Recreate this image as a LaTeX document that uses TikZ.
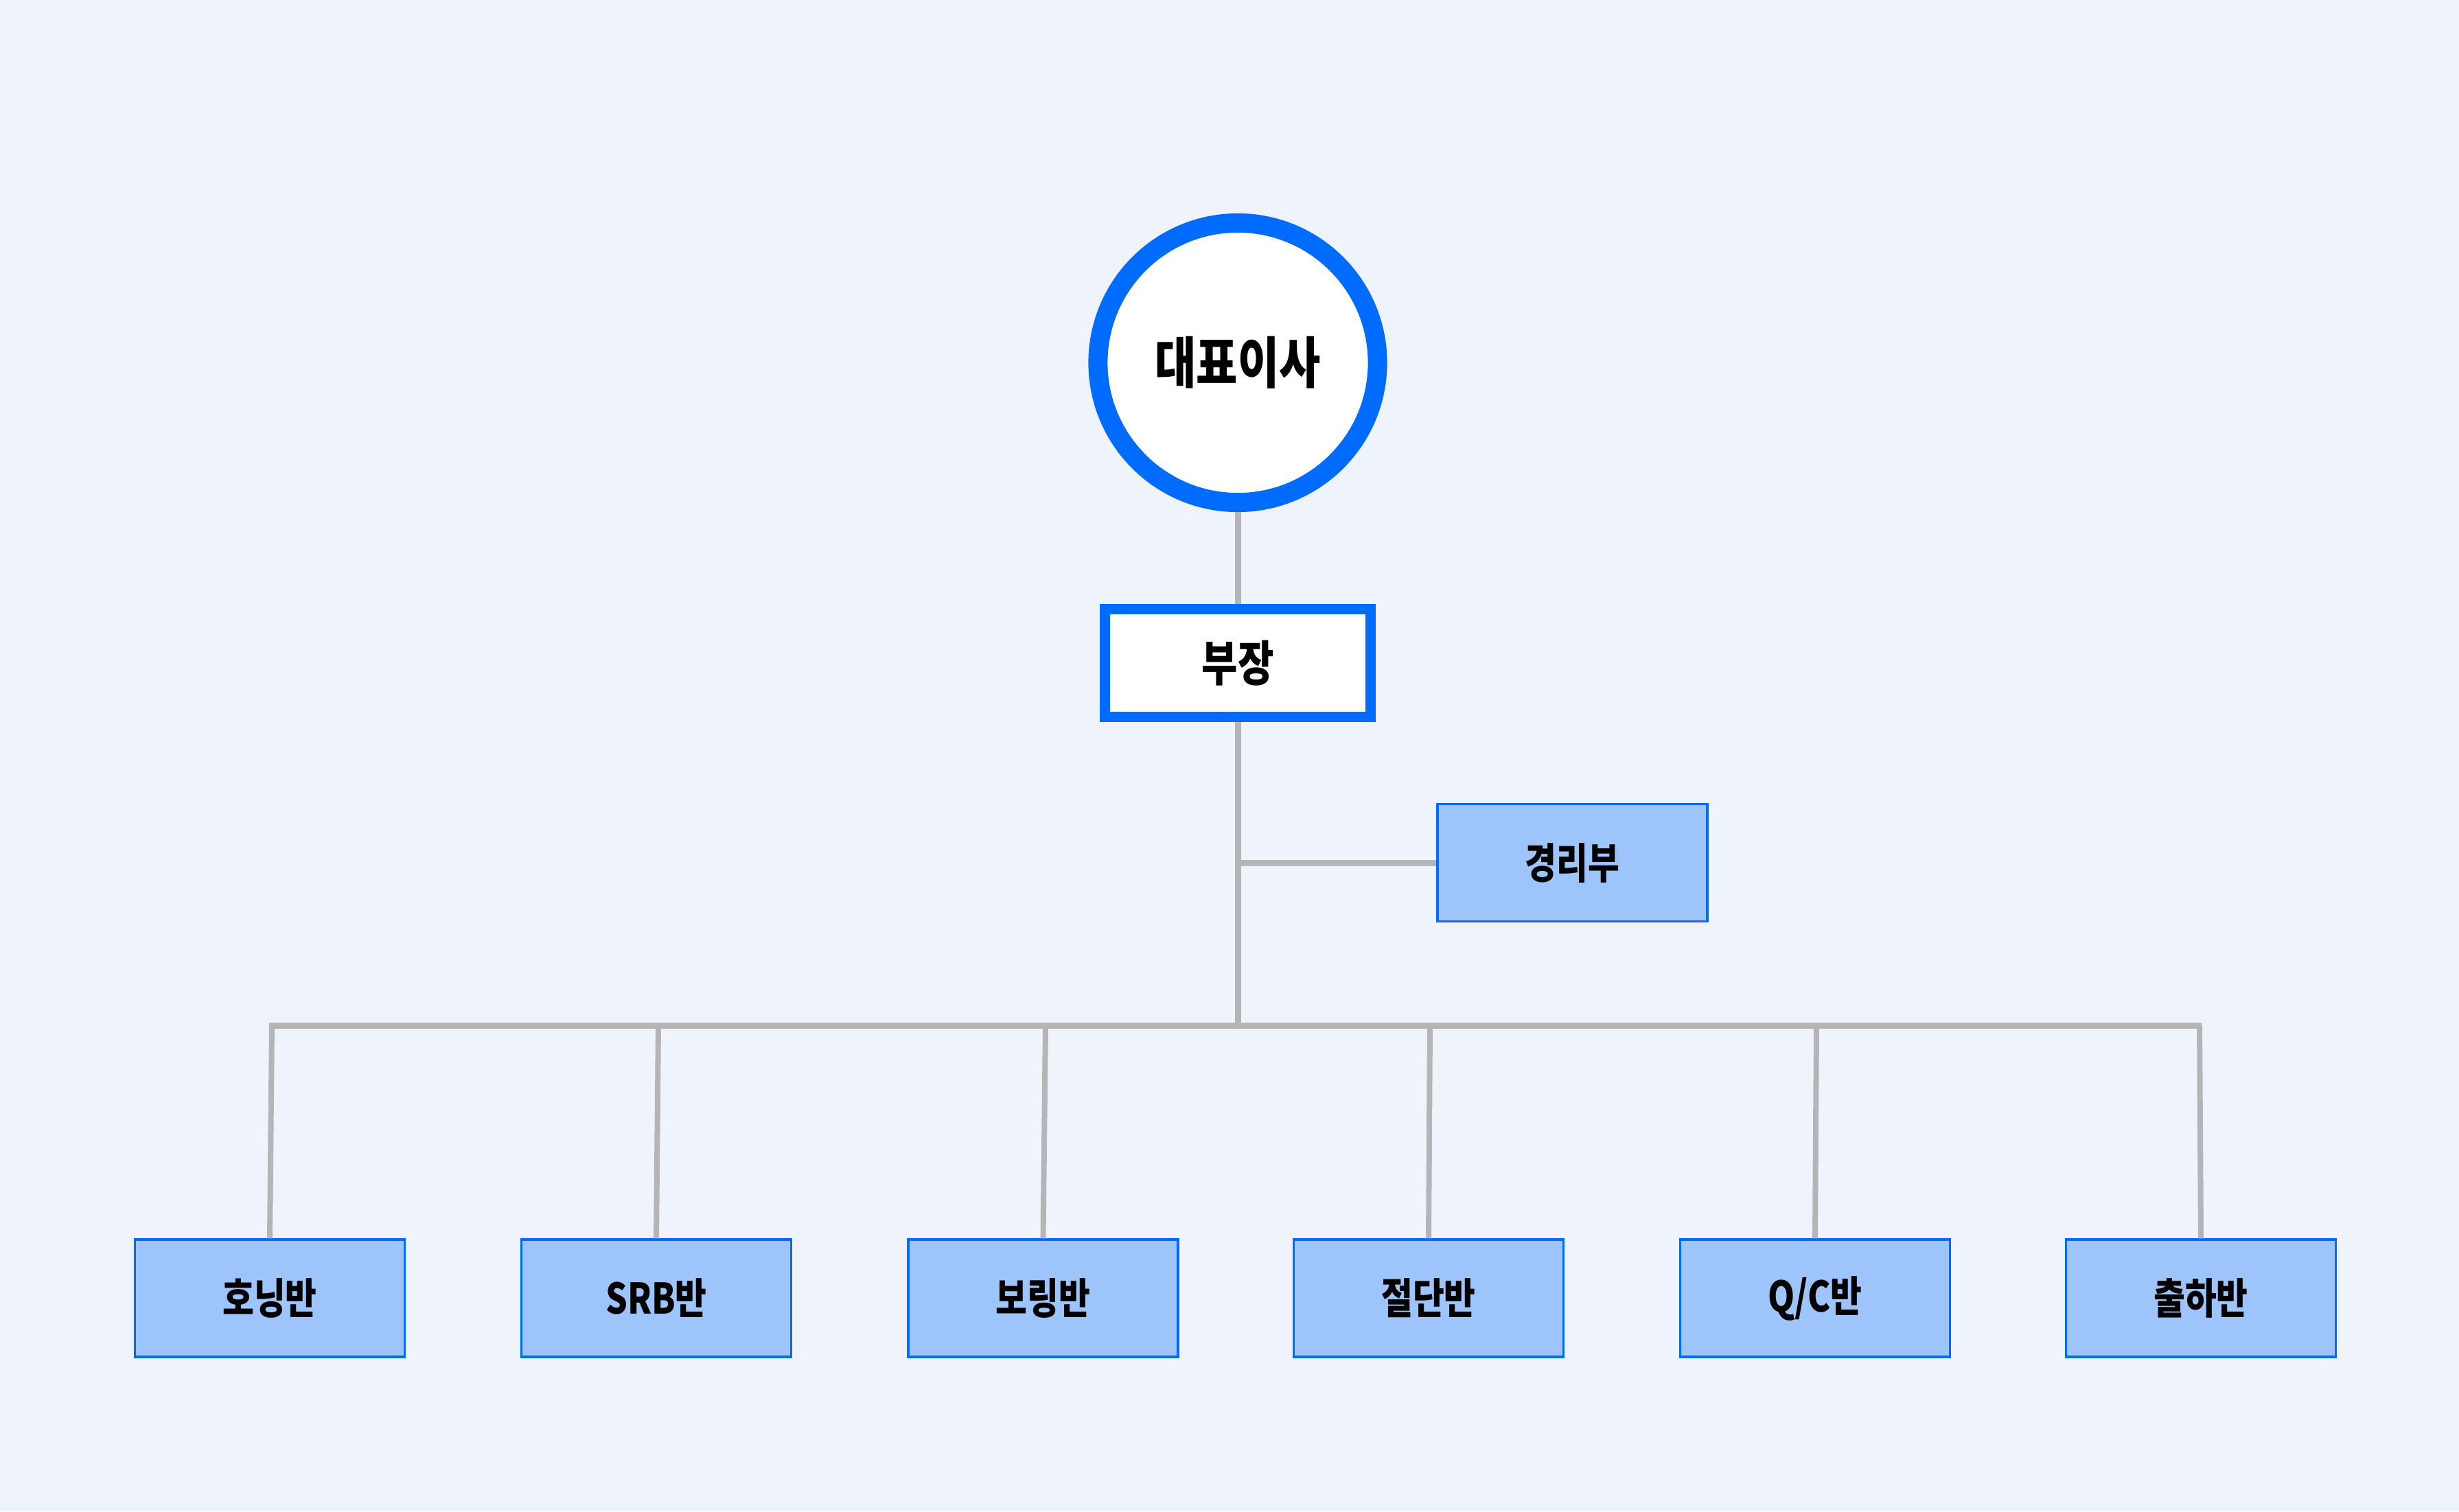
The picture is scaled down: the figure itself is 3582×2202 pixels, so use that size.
\documentclass[tikz,border=0pt]{standalone}
\usepackage{fontspec}
\usepackage{tikz}
\usepackage{xcolor}
\newfontfamily\krfont[FakeStretch=0.81]{Noto Sans CJK KR}

\definecolor{bgpale}{HTML}{EFF4FC}
\definecolor{orgblue}{HTML}{006CFF}
\definecolor{orgfill}{HTML}{9EC4FC}
\definecolor{orgline}{HTML}{B5B5B5}

\begin{document}
\begin{tikzpicture}[x=0.01cm,y=-0.01cm,
    chief/.style={circle,draw=orgblue,line width=2.8mm,fill=white,
        minimum size=40.7mm,inner sep=0pt,font=\krfont\bfseries\fontsize{23}{27}\selectfont},
    head/.style={rectangle,draw=orgblue,line width=1.5mm,fill=white,
        minimum width=38.7mm,minimum height=15.7mm,inner sep=0pt,font=\krfont\bfseries\fontsize{20}{24}\selectfont},
    unit/.style={rectangle,draw=orgblue,line width=0.34mm,fill=orgfill,
        minimum width=39.3mm,minimum height=17.1mm,inner sep=0pt,font=\krfont\bfseries\fontsize{17.5}{21}\selectfont},
    link/.style={draw=orgline,line width=0.9mm},
    drop/.style={draw=orgline,line width=0.8mm}]
        % background
        \fill[bgpale] (0,0) rectangle (3582,2202);
        \useasboundingbox (0,0) rectangle (3582,2202);

        % top of the chart
        \node[chief] (ceo) at (1803,528.5) {대표이사};
        \node[head] (mgr) at (1803,966) {부장};
        \node[unit] (acct) at (2290.5,1257) {경리부};

        % bus line
        \coordinate (busL) at (392,1494);
        \coordinate (busR) at (3207,1494);
        \coordinate (busM) at (1803,1494);
        \coordinate (side) at (1803,1257);

        % teams
        \node[unit] (hon) at (393,1891.5) {호닝반};
        \node[unit] (srb) at (956,1891.5) {SRB반};
        \node[unit] (bor) at (1519.5,1891.5) {보링반};
        \node[unit] (cut) at (2081,1891.5) {절단반};
        \node[unit] (qc) at (2644,1891.5) {Q/C반};
        \node[unit] (shp) at (3206,1891.5) {출하반};

        % connectors
        \draw[link] (ceo.south) -- (mgr.north);
        \draw[link] (mgr.south) -- (busM);
        \draw[link] (side) -- (acct.west);
        \draw[link] (busL) -- (busR);
        \draw[drop] (396,1494) -- (hon.north);
        \draw[drop] (959,1494) -- (srb.north);
        \draw[drop] (1523,1494) -- (bor.north);
        \draw[drop] (2083,1494) -- (cut.north);
        \draw[drop] (2646,1494) -- (qc.north);
        \draw[drop] (3204,1494) -- (shp.north);
    \end{tikzpicture}
\end{document}
